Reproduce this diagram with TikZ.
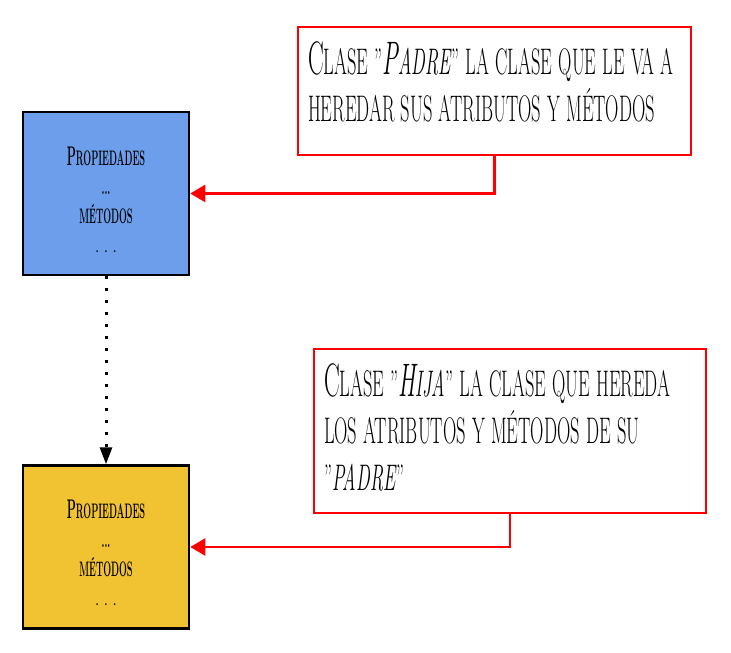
\documentclass[tikz,border=0pt]{standalone}
\usepackage{graphicx}
\usepackage{tikz}
\usetikzlibrary{arrows.meta}

\definecolor{azulpadre}{HTML}{6D9EEB}
\definecolor{amarillohija}{HTML}{F1C232}
% letra angosta, mayusculas con inicial grande
\newcommand{\angosto}[1]{\scalebox{0.5}[1]{#1}}
\newcommand{\estrecho}[1]{\scalebox{0.44}[1]{#1}}
\newcommand{\grande}[1]{{\fontsize{47}{47}\selectfont #1}}
\newcommand{\chica}[1]{{\fontsize{27}{27}\selectfont #1}}

\begin{document}
\begin{tikzpicture}[x=1pt, y=-1pt,
		clase/.style={draw=black, line width=2.5pt, minimum width=166pt, minimum height=163pt, inner sep=0pt, align=center, text height=117pt, font=\fontsize{21}{29}\selectfont\bfseries},
		nota/.style={draw=red, line width=2.5pt, fill=white, inner sep=10pt, align=left, font=\fontsize{37}{47}\selectfont},
		enlace/.style={red, line width=2.5pt, -{Triangle[length=15pt, width=17pt]}}]
		\useasboundingbox (0, 0) rectangle (731, 653);
		% clases
		\node[clase, fill=azulpadre] (padre) at (106, 193.5) {\estrecho{\chica{P}ROPIEDADES}\\ \estrecho{...}\\ \estrecho{MÉTODOS}\\ {\mdseries .\thinspace.\thinspace.}};
		\node[clase, fill=amarillohija] (hija) at (106, 547) {\estrecho{\chica{P}ROPIEDADES}\\ \estrecho{...}\\ \estrecho{MÉTODOS}\\ {\mdseries .\thinspace.\thinspace.}};
		% notas
		\node[nota, minimum width=393pt, minimum height=128pt, text width=373pt, text height=15pt] (notapadre) at (494.5, 91) {\angosto{\grande{C}LASE "\textit{\grande{P}ADRE}" LA CLASE QUE LE VA A}\\ \angosto{HEREDAR SUS ATRIBUTOS Y MÉTODOS}};
		\node[nota, minimum width=392pt, minimum height=164pt, text width=372pt, text height=26pt] (notahija) at (510, 431) {\angosto{\grande{C}LASE "\textit{\grande{H}IJA}" LA CLASE QUE HEREDA}\\ \angosto{LOS ATRIBUTOS Y MÉTODOS DE SU}\\ \angosto{"\textit{PADRE}"}};
		% herencia
		\draw[line width=3pt, dash pattern=on 3pt off 9pt, -{Triangle[length=17pt, width=12pt]}] (padre.south) -- (hija.north);
		\draw[enlace] (notapadre.south) |- (padre.east);
		\draw[enlace] (notahija.south) |- (hija.east);
	\end{tikzpicture}
\end{document}
